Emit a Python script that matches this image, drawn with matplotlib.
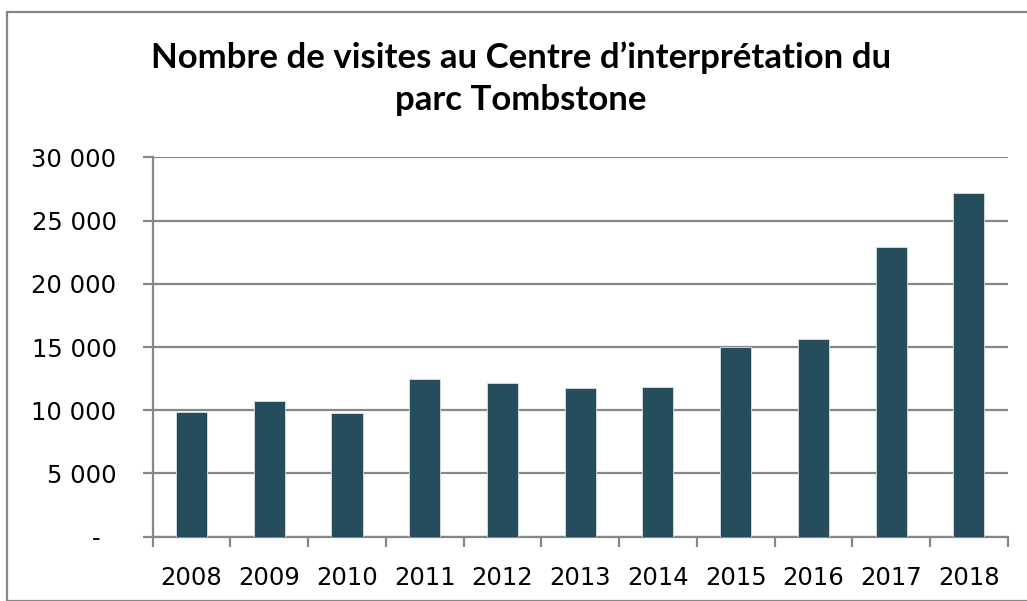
import matplotlib
matplotlib.use("Agg")
import matplotlib.pyplot as plt
from matplotlib.patches import Rectangle
from matplotlib.ticker import FuncFormatter

years = ["2008", "2009", "2010", "2011", "2012", "2013", "2014", "2015", "2016", "2017", "2018"]
visits = [9830, 10760, 9750, 12470, 12130, 11760, 11860, 15030, 15660, 22880, 27210]
yticks = [0, 5000, 10000, 15000, 20000, 25000, 30000]
title = "Nombre de visites au Centre d\u2019interpr\u00e9tation du\nparc Tombstone"

W, H = 1027, 601
fig = plt.figure(figsize=(W / 100, H / 100), dpi=100)
fig.patch.set_facecolor("white")

# chart area frame (only left/top visible in reference)
fig.patches.append(Rectangle((6.5 / W, 0), 2.0, 1 - 11.5 / H, transform=fig.transFigure,
                             fill=False, edgecolor="#878787", linewidth=1.6, zorder=0))

ax = fig.add_axes([152.7 / W, 1 - 536.7 / H, (1007.7 - 152.7) / W, (536.7 - 157.3) / H])
grid_c = "#878787"
x = list(range(len(years)))
ax.bar(x, visits, width=0.4, color="#254d5c", edgecolor="#d8e0e3", linewidth=0.6, zorder=3)

ax.set_xlim(-0.5, len(years) - 0.5)
ax.set_ylim(0, 30000)
ax.set_yticks(yticks)

def fmt(v, pos):
    if v == 0:
        return "-  "
    return f"{int(v):,}".replace(",", " ")

ax.yaxis.set_major_formatter(FuncFormatter(fmt))
ax.set_xticks(x)
ax.set_xticklabels(years)
ax.set_xticks([i - 0.5 for i in range(len(years) + 1)], minor=True)
ax.tick_params(axis="x", which="major", length=0, pad=21, labelsize=17.5, colors="black")
ax.tick_params(axis="x", which="minor", length=7, width=1.6, color=grid_c)
ax.tick_params(axis="y", length=7, width=1.6, color=grid_c, pad=19, labelsize=17.5, labelcolor="black")

ax.grid(axis="y", color=grid_c, linewidth=1.6, zorder=0)
ax.set_axisbelow(True)
for s in ["top", "right"]:
    ax.spines[s].set_visible(False)
for s in ["left", "bottom"]:
    ax.spines[s].set_color(grid_c)
    ax.spines[s].set_linewidth(1.6)

fig.text(521 / W, 1 - 79 / H, title, ha="center", va="center", fontsize=25,
         fontweight="bold", family=["Lato", "DejaVu Sans"], linespacing=1.38)

fig.savefig("out.png", dpi=100)
